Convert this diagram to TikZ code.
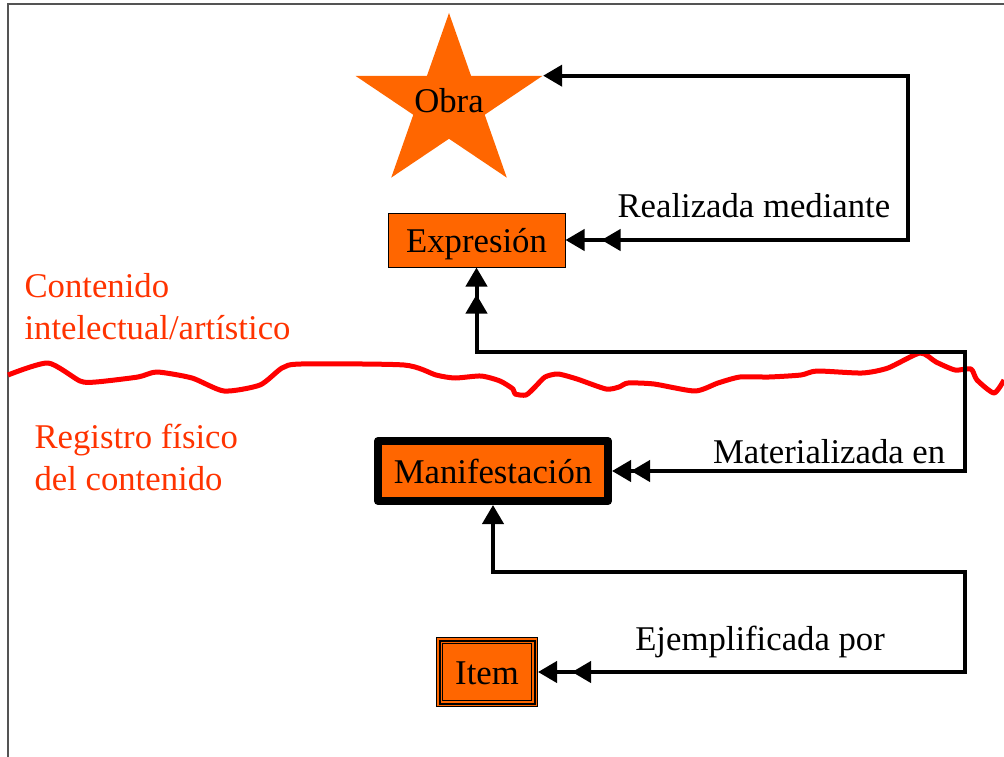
\documentclass[tikz,border=0pt]{standalone}
\usepackage{fontspec}
\setmainfont{Liberation Serif}
\usetikzlibrary{arrows.meta,shapes.geometric,decorations.markings}
\definecolor{frbrorange}{HTML}{FF6600}
\definecolor{frbrred}{HTML}{FF3300}
\tikzset{tri/.tip={Triangle[length=19pt,width=21pt]}}

\begin{document}
\begin{tikzpicture}[x=1pt, y=-1pt, font=\fontsize{34.7}{42}\selectfont,
    entity/.style={rectangle, fill=frbrorange, draw, inner sep=0pt, text height=25pt, text depth=0pt},
    rel/.style={line width=4pt, {tri[]}-{tri[]}},
    twin end/.style={postaction={decorate, decoration={markings, mark=at position -#1 with {\arrow{tri[]}}}}},
    twin start/.style={postaction={decorate, decoration={markings, mark=at position #1 with {\arrowreversed{tri[]}}}}},
    lbl/.style={anchor=base},
    side/.style={anchor=base west, align=left, text=frbrred}]
    \useasboundingbox (0,0) rectangle (1004,757);
    \draw[line width=1.5pt, color=black!67] (8,757) -- (8,4) -- (1004,4);

    \node[star, star points=5, star point ratio=2.618, minimum size=182, inner sep=0pt, xscale=1.08, fill=frbrorange] (obra) at (449,104) {};
    \node[text height=25pt, text depth=0pt, inner sep=0pt] (obralbl) at (449,100) {Obra};
    \node[entity, line width=1pt, minimum width=177, minimum height=54] (expr) at (476.5,240) {Expresi\'on};
    \node[entity, line width=8pt, line join=round, minimum width=230, minimum height=60] (manif) at (493,471) {Manifestaci\'on};
    \node[entity, line width=1pt, minimum width=101, minimum height=69] (item) at (487,672) {Item};
    \draw[line width=2pt] ([shift={(3.5,3.5)}]item.north west) rectangle ([shift={(-3.5,-3.5)}]item.south east);
    \draw[line width=1pt] ([shift={(6.5,6.5)}]item.north west) rectangle ([shift={(-6.5,-6.5)}]item.south east);

    \node[side] (intel) at (21,339) {Contenido\\intelectual/art\'istico};
    \node[side] (fisico) at (31,490) {Registro f\'isico\\del contenido};

    % linea divisoria
    \draw[red, line width=5pt, line join=round] plot[smooth, tension=0.4] coordinates {
        (8,375) (48,363) (80,381) (96,382) (138,377) (157,372) (192,378) (224,391)
        (260,385) (282,368) (301,364) (404,365) (436,375) (455,378) (481,376) (500,381)
        (513,389) (515,394) (526,395) (535,387) (545,377) (558,374) (577,379) (606,389)
        (619,387) (628,383) (654,384) (695,391) (718,383) (740,377) (769,377) (801,375)
        (817,371) (862,373) (888,368) (920,353) (936,362) (955,370) (971,369) (977,380)
        (994,393) (1004,380)};

    \coordinate (rb) at (908,240);
    \coordinate (mb1) at (965,352);
    \coordinate (mb2) at (965,471);
    \coordinate (ib1) at (965,572);
    \coordinate (ib2) at (965,672);

    \draw[rel, twin end=36pt] (obra.outer point 5) -| (rb) -- node[lbl, pos=.45, yshift=23pt] {Realizada mediante} (expr.east);
    \draw[rel, twin start=27pt, twin end=19pt] (expr.south) |- (mb1) -- (mb2) -- node[lbl, pos=.385, yshift=8pt] {Materializada en} (manif.east);
    \draw[rel, twin end=34pt] (manif.south) |- (ib1) -- (ib2) -- node[lbl, pos=.48, yshift=22pt] {Ejemplificada por} (item.east);
\end{tikzpicture}
\end{document}
